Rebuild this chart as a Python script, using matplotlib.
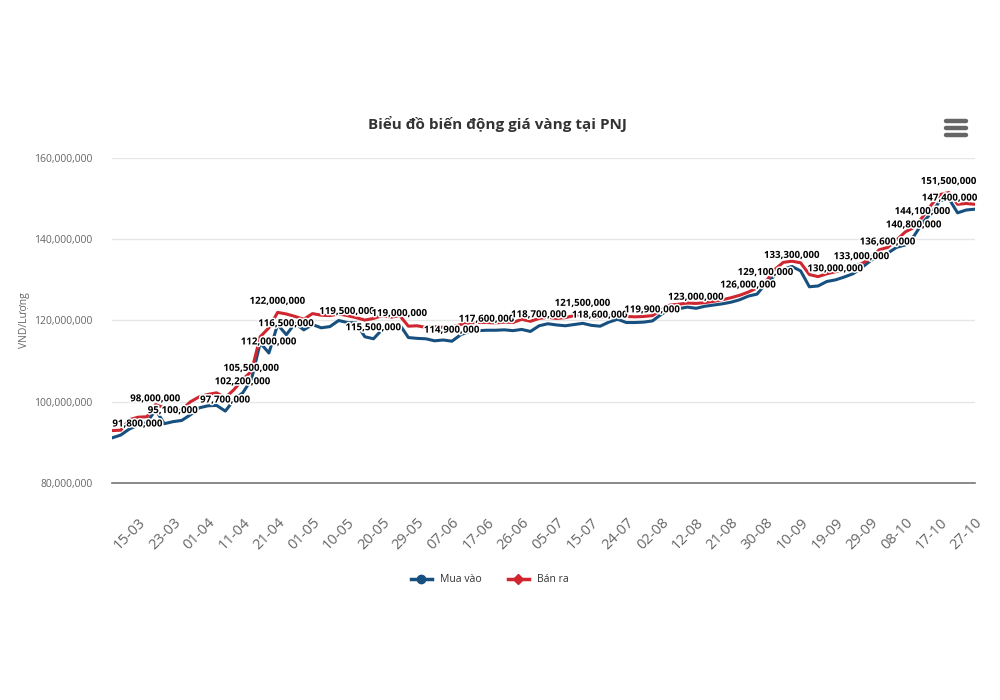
import matplotlib
matplotlib.use("Agg")
import matplotlib.pyplot as plt
import matplotlib.patheffects as pe
from matplotlib.lines import Line2D
from matplotlib.ticker import FuncFormatter, FixedLocator
import numpy as np

plt.rcParams['font.family'] = ['Open Sans', 'DejaVu Sans']

# ---- data (million VND / lượng) ----
tick_labels = ["15-03", "23-03", "01-04", "11-04", "21-04", "01-05", "10-05", "20-05",
               "29-05", "07-06", "17-06", "26-06", "05-07", "15-07", "24-07", "02-08",
               "12-08", "21-08", "30-08", "10-09", "19-09", "29-09", "08-10", "17-10", "27-10"]

mua_vao = [91.1, 91.8, 93.3, 94.3, 94.9, 98.0, 94.6, 95.1, 95.4, 96.8,
           98.5, 99.0, 99.1, 97.7, 100.5, 102.2, 105.5, 114.5, 112.0, 119.0,
           116.5, 119.3, 117.7, 119.0, 118.2, 118.5, 120.0, 119.5, 119.4, 116.0,
           115.5, 117.8, 118.6, 119.0, 115.8, 115.6, 115.5, 115.0, 115.2, 114.9,
           116.5, 117.3, 117.5, 117.6, 117.6, 117.7, 117.5, 117.8, 117.3, 118.7,
           119.2, 118.9, 118.7, 119.0, 119.3, 118.8, 118.6, 119.6, 120.3, 119.5,
           119.5, 119.6, 119.9, 121.5, 122.8, 122.9, 123.3, 123.0, 123.5, 123.8,
           124.1, 124.5, 125.1, 126.0, 126.5, 129.1, 131.0, 132.6, 133.3, 132.2,
           128.3, 128.5, 129.6, 130.0, 130.7, 131.5, 133.0, 134.7, 136.0, 136.6,
           138.0, 138.6, 140.8, 144.1, 146.5, 149.5, 150.0, 146.5, 147.2, 147.4]

ban_ra = [92.9, 93.0, 95.6, 96.2, 96.3, 99.3, 98.5, 97.7, 98.0, 100.0,
          101.2, 101.8, 102.2, 101.0, 103.0, 105.5, 107.5, 116.0, 118.2, 122.0,
          121.6, 121.0, 120.3, 121.7, 121.3, 121.2, 121.6, 121.2, 120.7, 120.1,
          120.5, 121.2, 120.8, 121.2, 118.6, 118.7, 118.3, 118.5, 118.3, 118.4,
          119.0, 119.4, 119.5, 119.5, 119.4, 119.6, 119.5, 120.3, 119.8, 120.5,
          120.8, 120.5, 120.7, 121.2, 121.5, 120.9, 120.8, 121.1, 121.6, 121.0,
          120.9, 121.0, 121.2, 122.6, 123.8, 124.0, 124.3, 124.2, 124.4, 124.7,
          125.1, 125.6, 126.2, 127.0, 128.0, 129.5, 132.5, 134.3, 134.6, 134.2,
          131.3, 130.8, 131.5, 132.0, 132.6, 133.2, 134.0, 135.2, 137.4, 138.0,
          139.8, 141.8, 142.9, 145.5, 148.5, 151.0, 151.5, 148.6, 148.8, 148.6]

# indices of points that carry a data label
mua_label_idx = [1, 5, 7, 13, 15, 16, 18, 20, 27, 30, 33, 39, 43, 49, 56, 62,
                 67, 73, 75, 78, 83, 86, 89, 92, 93, 99]
ban_label_idx = [19, 54, 96]

series_names = ["Mua vào", "Bán ra"]
colors = ["#17507f", "#cf2630"]

# ---- figure ----
fig = plt.figure(figsize=(10, 7), dpi=100)
fig.patch.set_facecolor("white")
ax = fig.add_axes([0.112, 0.31, 0.863, 0.4643])

x = np.arange(len(mua_vao))
buy = np.array(mua_vao) * 1e6
sell = np.array(ban_ra) * 1e6

ax.plot(x, buy, color=colors[0], lw=2.2, solid_joinstyle='round', zorder=3)
ax.plot(x, sell, color=colors[1], lw=2.2, solid_joinstyle='round', zorder=3)

ax.set_xlim(0, len(mua_vao) - 1)
ax.set_ylim(80e6, 160e6)
ax.yaxis.set_major_locator(FixedLocator([80e6, 100e6, 120e6, 140e6, 160e6]))
ax.yaxis.set_major_formatter(FuncFormatter(lambda v, p: f"{v:,.0f}"))

tick_pos = [3 + 4 * k for k in range(len(tick_labels))]
ax.set_xticks(tick_pos)
ax.set_xticklabels(tick_labels, rotation=45, ha='right', va='top',
                   rotation_mode='anchor', fontsize=10.5, color='#666666')
ax.tick_params(axis='x', length=0, pad=23)
ax.tick_params(axis='y', length=0, pad=14, labelsize=7.5, labelcolor='#666666')

ax.grid(axis='y', color='#e6e6e6', lw=1)
ax.set_axisbelow(True)
for s in ['top', 'right', 'left']:
    ax.spines[s].set_visible(False)
ax.spines['bottom'].set_color('#777777')
ax.spines['bottom'].set_linewidth(1.2)

ax.set_ylabel("VND/Lượng", fontsize=7.5, color='#666666')
ax.yaxis.set_label_coords((30 - 112) / 863, 0.5)

# ---- data labels ----
outline = [pe.withStroke(linewidth=2.2, foreground='white')]
def put_label(vals, idx):
    v = vals[idx]
    ha = 'center'
    dx = 0
    if idx <= 2:
        ha = 'left'; dx = -6
    if idx == len(vals) - 1:
        ha = 'right'; dx = 2
    ax.annotate(f"{v:,.0f}", (idx, v), xytext=(dx, 4), textcoords='offset points',
                ha=ha, va='bottom', fontsize=7, fontweight='bold', color='#000000',
                path_effects=outline, zorder=5, annotation_clip=False)

for i in mua_label_idx:
    put_label(buy, i)
for i in ban_label_idx:
    put_label(sell, i)

# ---- title ----
fig.text(0.497, 0.823, "Biểu đồ biến động giá vàng tại PNJ", ha='center', va='center',
         fontsize=11, fontweight='bold', color='#333333')

# hamburger menu icon
for yy in (121, 128, 135):
    fig.add_artist(Line2D([946 / 1000, 966 / 1000], [1 - yy / 700, 1 - yy / 700],
                          color='#666666', lw=3.2, solid_capstyle='round'))

# ---- legend ----
handles = [Line2D([0], [0], color=colors[0], lw=2.5, marker='o', markersize=6),
           Line2D([0], [0], color=colors[1], lw=2.5, marker='D', markersize=5)]
fig.legend(handles, series_names, loc='center', bbox_to_anchor=(0.49, 1 - 580 / 700),
           ncol=2, frameon=False, fontsize=7.5, handlelength=2.0, columnspacing=2.5,
           labelcolor='#333333')

fig.savefig("out.png", dpi=100, facecolor='white')
